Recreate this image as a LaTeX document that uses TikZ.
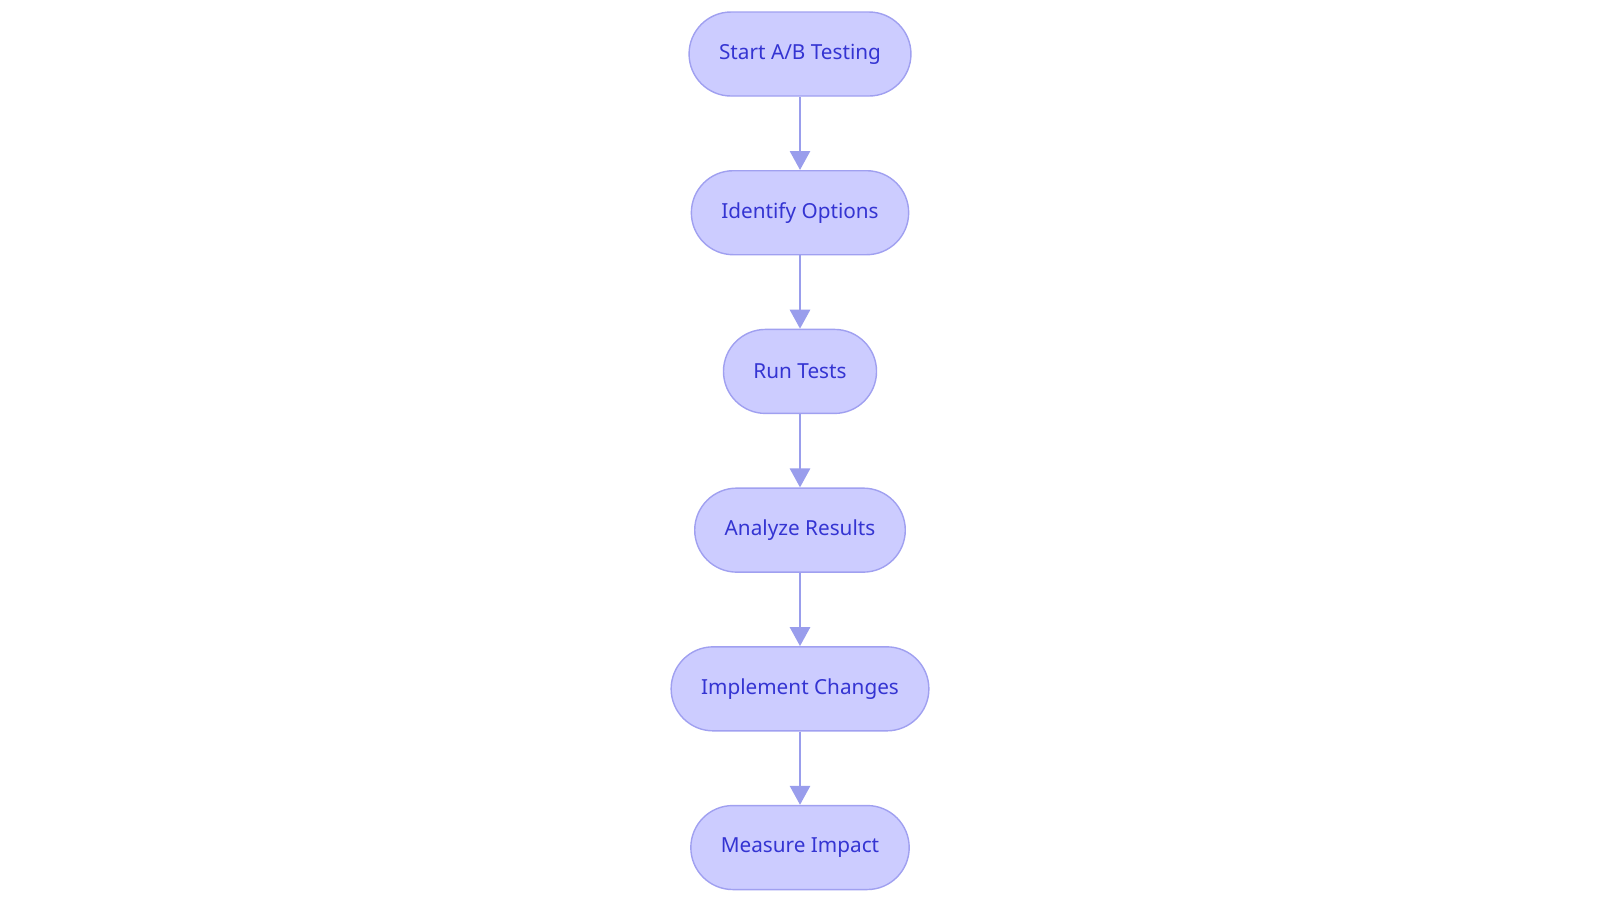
\documentclass[tikz,border=0pt]{standalone}
\usepackage{fontspec}
\setmainfont{Noto Sans}
\usetikzlibrary{arrows.meta,positioning}
\tikzset{%%
  >={Triangle[length=0.19cm,width=0.2cm]}
  }
\definecolor{stepFill}{RGB}{204, 204, 255}
\definecolor{stepLine}{RGB}{160, 160, 240}
\definecolor{stepText}{RGB}{52, 52, 210}
\definecolor{arrowCol}{RGB}{153, 157, 236}

\begin{document}
\begin{tikzpicture}[
    stepbox/.style={draw=stepLine, fill=stepFill, text=stepText, line width=0.4pt,
      rounded corners=0.42cm, minimum height=0.84cm, inner xsep=0.3cm,
      font=\fontsize{5.9}{7}\selectfont},
    link/.style={->, draw=arrowCol, line width=0.8pt},
    node distance=0.733cm
  ]
  \useasboundingbox (0,0) rectangle (16,-9.03);
  \node[stepbox] (start) at (8,-0.54) {Start A/B Testing};
  \node[stepbox, below=of start] (ident) {Identify Options};
  \node[stepbox, below=of ident] (run) {Run Tests};
  \node[stepbox, below=of run] (analyze) {Analyze Results};
  \node[stepbox, below=of analyze] (impl) {Implement Changes};
  \node[stepbox, below=of impl] (measure) {Measure Impact};
  \draw[link] (start) -- (ident);
  \draw[link] (ident) -- (run);
  \draw[link] (run) -- (analyze);
  \draw[link] (analyze) -- (impl);
  \draw[link] (impl) -- (measure);
\end{tikzpicture}
\end{document}
